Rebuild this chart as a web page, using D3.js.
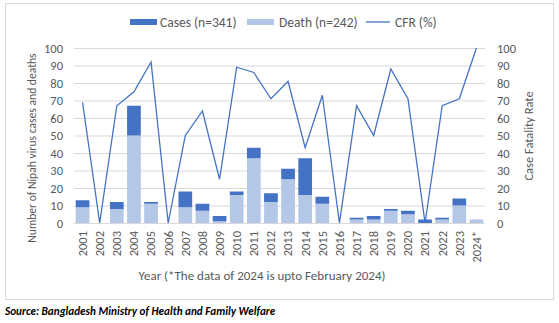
<!DOCTYPE html>
<html>
<head>
<meta charset="utf-8">
<script src="https://cdn.jsdelivr.net/npm/d3@7"></script>
<style>
  body { margin: 0; background: #fff; }
  svg text { font-family: Carlito, Calibri, "Liberation Sans", sans-serif; }
</style>
</head>
<body>
<div id="chart"></div>
<script>
// data
var years = ["2001","2002","2003","2004","2005","2006","2007","2008","2009","2010","2011","2012",
             "2013","2014","2015","2016","2017","2018","2019","2020","2021","2022","2023","2024*"];
var cases = [13,0,12,67,12,0,18,11,4,18,43,17,31,37,15,0,3,4,8,7,2,3,14,2];
var deaths = [9,0,8,50,11,0,9,7,1,16,37,12,25,16,11,0,2,2,7,5,0,2,10,2];
var cfr = [69,0,67,75,92,0,50,64,25,89,86,71,81,43,73,0,67,50,88,71,0,67,71,100];
var yTicks = [0,10,20,30,40,50,60,70,80,90,100];

var svgWidth = 559, svgHeight = 323;
var margin = {top: 48, right: 74, bottom: 100, left: 74};
var chartWidth = 485 - margin.left;
var chartHeight = 223 - margin.top;

var darkBlue = "#4472C4", lightBlue = "#B4C7E7", textCol = "#595959";

var svg = d3.select("#chart").append("svg")
    .attr("width", svgWidth)
    .attr("height", svgHeight);

// outer frame
svg.append("rect")
    .attr("x", 5.5).attr("y", 3.5)
    .attr("width", 548).attr("height", 296)
    .attr("fill", "none").attr("stroke", "#D9D9D9");

var chartGroup = svg.append("g")
    .attr("transform", `translate(${margin.left}, ${margin.top})`);

var xScale = d3.scaleBand()
    .domain(years)
    .range([0, chartWidth])
    .paddingInner(0.2)
    .paddingOuter(0.1);

var yScale = d3.scaleLinear().domain([0, 100]).range([chartHeight, 0]);
var yScale2 = d3.scaleLinear().domain([0, 100]).range([chartHeight, 0]);

// gridlines
chartGroup.append("g")
    .selectAll("line")
    .data(yTicks)
    .enter()
    .append("line")
    .attr("x1", 0).attr("x2", chartWidth)
    .attr("y1", d => yScale(d) + 0.5).attr("y2", d => yScale(d) + 0.5)
    .attr("stroke", "#D9D9D9");

// left axis
var yAxis = d3.axisLeft(yScale).tickValues(yTicks).tickSize(0).tickPadding(11);
var gl = chartGroup.append("g").call(yAxis);
gl.select(".domain").remove();
gl.selectAll("text").attr("fill", textCol).style("font-size", "12.5px");

// right axis
var yAxis2 = d3.axisRight(yScale2).tickValues(yTicks).tickSize(0).tickPadding(12);
var gr = chartGroup.append("g")
    .attr("transform", `translate(${chartWidth}, 0)`)
    .call(yAxis2);
gr.select(".domain").remove();
gr.selectAll("text").attr("fill", textCol).style("font-size", "12.5px");

// x axis labels
var xAxis = d3.axisBottom(xScale).tickSize(0).tickPadding(0);
var gx = chartGroup.append("g")
    .attr("transform", `translate(0, ${chartHeight})`)
    .call(xAxis);
gx.select(".domain").remove();
gx.selectAll("text")
    .attr("fill", textCol)
    .style("font-size", "12.5px")
    .attr("text-anchor", "end")
    .attr("transform", "rotate(-90)")
    .attr("x", -8)
    .attr("y", 0)
    .attr("dy", "0.35em");

// deaths (bottom) and remaining cases (top)
chartGroup.selectAll("rect.death")
    .data(deaths)
    .enter()
    .append("rect")
    .attr("class", "death")
    .attr("x", (d, i) => xScale(years[i]))
    .attr("y", d => yScale(d))
    .attr("width", xScale.bandwidth())
    .attr("height", d => chartHeight - yScale(d))
    .attr("fill", lightBlue);

chartGroup.selectAll("rect.case")
    .data(cases)
    .enter()
    .append("rect")
    .attr("class", "case")
    .attr("x", (d, i) => xScale(years[i]))
    .attr("y", d => yScale(d))
    .attr("width", xScale.bandwidth())
    .attr("height", (d, i) => yScale(deaths[i]) - yScale(d))
    .attr("fill", darkBlue);

// CFR line
var line = d3.line()
    .x((d, i) => xScale(years[i]) + xScale.bandwidth() / 2)
    .y(d => yScale2(d));

chartGroup.append("path")
    .datum(cfr)
    .attr("d", line)
    .attr("fill", "none")
    .attr("stroke", darkBlue)
    .attr("stroke-width", 1.3);

// axis titles
svg.append("text")
    .attr("transform", "translate(32, 148) rotate(-90)")
    .attr("text-anchor", "middle")
    .attr("dy", "0.35em")
    .attr("fill", textCol)
    .style("font-size", "11.6px")
    .text("Number of Nipah virus cases and deaths");

svg.append("text")
    .attr("transform", "translate(529, 136) rotate(-90)")
    .attr("text-anchor", "middle")
    .attr("dy", "0.35em")
    .attr("fill", textCol)
    .style("font-size", "12.5px")
    .text("Case Fatality Rate");

svg.append("text")
    .attr("x", 262).attr("y", 275)
    .attr("text-anchor", "middle")
    .attr("dy", "0.35em")
    .attr("fill", textCol)
    .style("font-size", "13px")
    .text("Year (*The data of 2024 is upto February 2024)");

// legend
var legend = svg.append("g").attr("transform", "translate(0, 22)");
legend.append("rect").attr("x", 130).attr("y", -3).attr("width", 27).attr("height", 6).attr("fill", darkBlue);
legend.append("text").attr("x", 160).attr("dy", "0.35em").attr("fill", textCol)
    .style("font-size", "13.5px").text("Cases (n=341)");
legend.append("rect").attr("x", 247).attr("y", -3).attr("width", 27).attr("height", 6).attr("fill", lightBlue);
legend.append("text").attr("x", 279).attr("dy", "0.35em").attr("fill", textCol)
    .style("font-size", "13.5px").text("Death (n=242)");
legend.append("line").attr("x1", 366).attr("x2", 390).attr("y1", 0).attr("y2", 0)
    .attr("stroke", darkBlue).attr("stroke-width", 1.3);
legend.append("text").attr("x", 395).attr("dy", "0.35em").attr("fill", textCol)
    .style("font-size", "13.5px").text("CFR (%)");

// source note
svg.append("text")
    .attr("x", 5).attr("y", 311)
    .attr("dy", "0.35em")
    .attr("fill", "#000")
    .style("font-size", "11.2px")
    .style("font-weight", "bold")
    .style("font-style", "italic")
    .text("Source: Bangladesh Ministry of Health and Family Welfare");
</script>
</body>
</html>
